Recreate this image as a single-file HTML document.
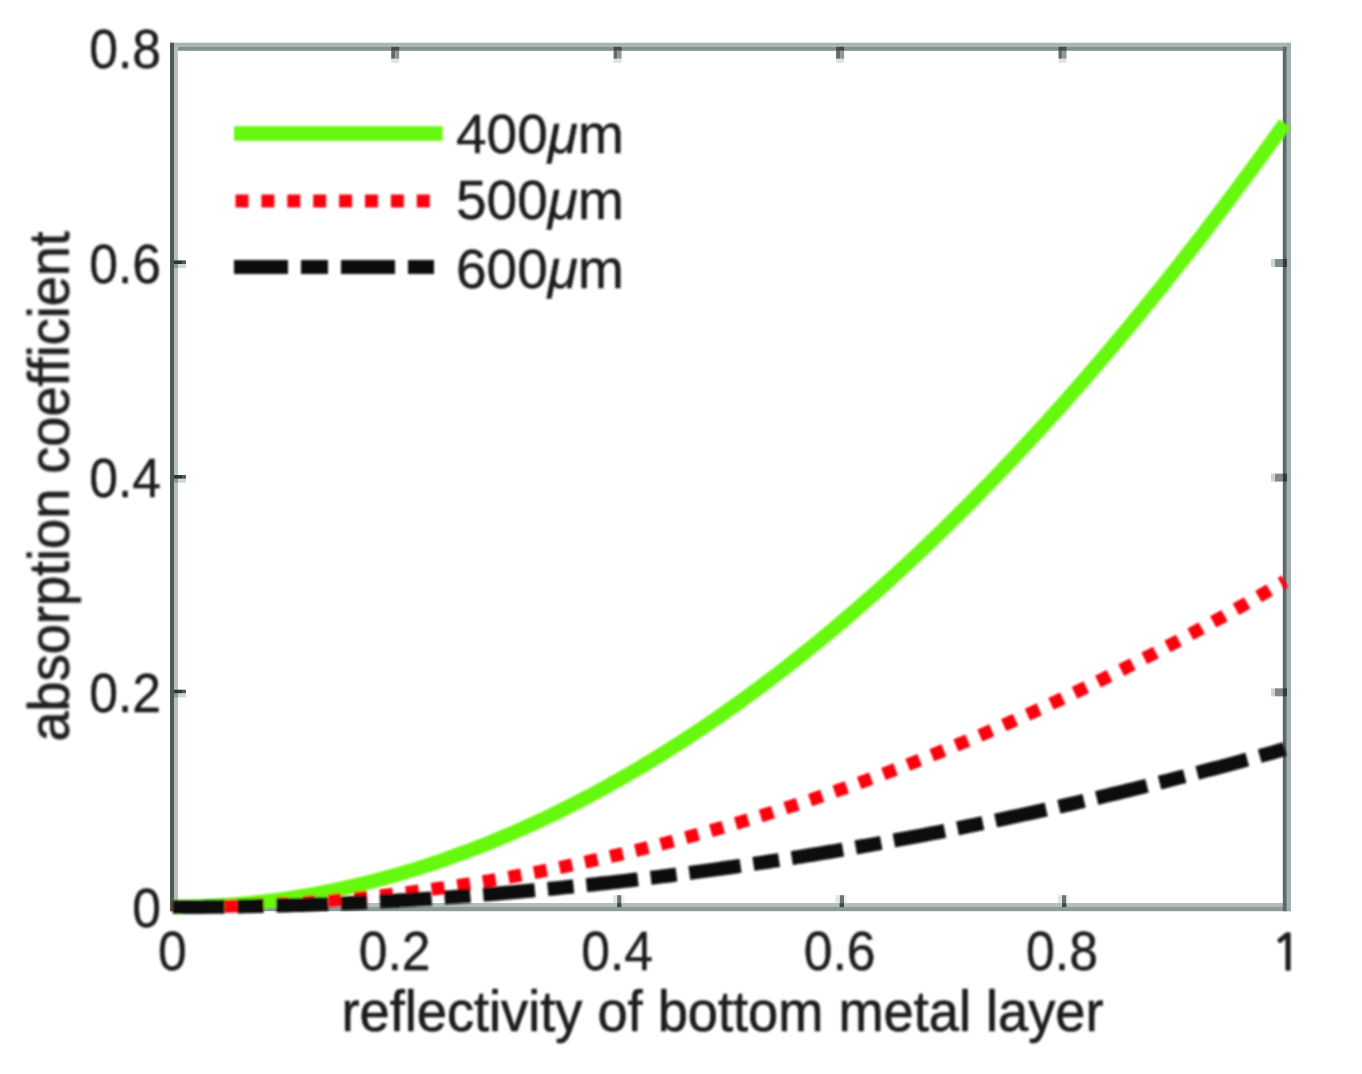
<!DOCTYPE html><html><head><meta charset="utf-8"><title>absorption coefficient vs reflectivity</title>
<style>html,body{margin:0;padding:0;background:#fff}body{width:1362px;height:1074px;overflow:hidden}svg{display:block}text{stroke:#1c1c1c;stroke-width:0.4px;font-variant-ligatures:none;font-family:"Liberation Sans",Arial,Helvetica,sans-serif;fill:#1c1c1c}</style></head><body>
<svg width="1362" height="1074" viewBox="0 0 1362 1074">
<defs><filter id="bl" x="-5%" y="-5%" width="110%" height="110%"><feGaussianBlur stdDeviation="1.1"/></filter> <filter id="ba" x="-5%" y="-5%" width="110%" height="110%"><feGaussianBlur stdDeviation="0.5"/></filter><filter id="bt" x="-5%" y="-5%" width="110%" height="110%"><feGaussianBlur stdDeviation="1.1"/></filter></defs>
<rect width="1362" height="1074" fill="#fff"/>
<g filter="url(#ba)">
<rect x="170" y="42.7" width="1121" height="4" fill="#a9b4b3"/>
<rect x="170" y="46.7" width="1121" height="4.1" fill="#83918f"/>
<rect x="170" y="903" width="1121" height="4" fill="#b3bdbc"/>
<rect x="170" y="907" width="1121" height="4.2" fill="#8e9b99"/>
<rect x="170" y="42.7" width="4" height="868.5" fill="#50585a"/>
<rect x="174" y="46.7" width="4" height="860" fill="#b5bfbe"/>
<rect x="1282.8" y="46.7" width="4" height="864.5" fill="#5d686a"/>
<rect x="1286.8" y="42.7" width="4.2" height="868.5" fill="#a3afae"/>
<rect x="391.2" y="46.8" width="8" height="4" fill="#454c4c"/><rect x="391.2" y="50.8" width="4" height="8" fill="#626a6a"/><rect x="395.2" y="50.8" width="4" height="8" fill="#8d9797"/><rect x="391.2" y="58.8" width="8" height="4" fill="#dde1e1"/>
<rect x="394.7" y="895.2" width="4.4" height="8" fill="#6a7272"/><rect x="394.7" y="903.1" width="4.4" height="4" fill="#3f4545"/><rect x="390.7" y="895.2" width="4" height="7.9" fill="#e0e5e5"/><rect x="399.1" y="895.2" width="3" height="8" fill="#eef1f1"/>
<rect x="613.6" y="46.8" width="8" height="4" fill="#454c4c"/><rect x="613.6" y="50.8" width="4" height="8" fill="#626a6a"/><rect x="617.6" y="50.8" width="4" height="8" fill="#8d9797"/><rect x="613.6" y="58.8" width="8" height="4" fill="#dde1e1"/>
<rect x="617.1" y="895.2" width="4.4" height="8" fill="#6a7272"/><rect x="617.1" y="903.1" width="4.4" height="4" fill="#3f4545"/><rect x="613.1" y="895.2" width="4" height="7.9" fill="#e0e5e5"/><rect x="621.5" y="895.2" width="3" height="8" fill="#eef1f1"/>
<rect x="836.1" y="46.8" width="8" height="4" fill="#454c4c"/><rect x="836.1" y="50.8" width="4" height="8" fill="#626a6a"/><rect x="840.1" y="50.8" width="4" height="8" fill="#8d9797"/><rect x="836.1" y="58.8" width="8" height="4" fill="#dde1e1"/>
<rect x="839.6" y="895.2" width="4.4" height="8" fill="#6a7272"/><rect x="839.6" y="903.1" width="4.4" height="4" fill="#3f4545"/><rect x="835.6" y="895.2" width="4" height="7.9" fill="#e0e5e5"/><rect x="844.0" y="895.2" width="3" height="8" fill="#eef1f1"/>
<rect x="1058.5" y="46.8" width="8" height="4" fill="#454c4c"/><rect x="1058.5" y="50.8" width="4" height="8" fill="#626a6a"/><rect x="1062.5" y="50.8" width="4" height="8" fill="#8d9797"/><rect x="1058.5" y="58.8" width="8" height="4" fill="#dde1e1"/>
<rect x="1062.0" y="895.2" width="4.4" height="8" fill="#6a7272"/><rect x="1062.0" y="903.1" width="4.4" height="4" fill="#3f4545"/><rect x="1058.0" y="895.2" width="4" height="7.9" fill="#e0e5e5"/><rect x="1066.4" y="895.2" width="3" height="8" fill="#eef1f1"/>
<rect x="174" y="689.7" width="8" height="3.8" fill="#2f3538"/><rect x="182" y="689.7" width="4" height="3.8" fill="#4f5759"/><rect x="174" y="693.5" width="4" height="3.9" fill="#8d9898"/><rect x="178" y="693.5" width="8" height="3.9" fill="#d0d6d6"/>
<rect x="1275" y="688.3" width="8" height="8" fill="#7f8a8a"/><rect x="1271" y="688.3" width="4" height="8" fill="#cdd4d3"/><rect x="1282.9" y="688.3" width="4" height="8" fill="#30373a"/>
<rect x="174" y="475.0" width="8" height="3.8" fill="#2f3538"/><rect x="182" y="475.0" width="4" height="3.8" fill="#4f5759"/><rect x="174" y="478.8" width="4" height="3.9" fill="#8d9898"/><rect x="178" y="478.8" width="8" height="3.9" fill="#d0d6d6"/>
<rect x="1275" y="473.6" width="8" height="8" fill="#7f8a8a"/><rect x="1271" y="473.6" width="4" height="8" fill="#cdd4d3"/><rect x="1282.9" y="473.6" width="4" height="8" fill="#30373a"/>
<rect x="174" y="260.4" width="8" height="3.8" fill="#2f3538"/><rect x="182" y="260.4" width="4" height="3.8" fill="#4f5759"/><rect x="174" y="264.2" width="4" height="3.9" fill="#8d9898"/><rect x="178" y="264.2" width="8" height="3.9" fill="#d0d6d6"/>
<rect x="1275" y="259.0" width="8" height="8" fill="#7f8a8a"/><rect x="1271" y="259.0" width="4" height="8" fill="#cdd4d3"/><rect x="1282.9" y="259.0" width="4" height="8" fill="#30373a"/>
</g><g filter="url(#bl)">
<path d="M172.80 907.00 L178.36 906.98 L183.92 906.92 L189.48 906.82 L195.04 906.67 L200.60 906.49 L206.16 906.27 L211.72 906.01 L217.28 905.71 L222.84 905.36 L228.41 904.98 L233.97 904.56 L239.53 904.10 L245.09 903.60 L250.65 903.06 L256.21 902.48 L261.77 901.86 L267.33 901.20 L272.89 900.50 L278.45 899.76 L284.01 898.98 L289.57 898.16 L295.13 897.31 L300.69 896.41 L306.25 895.47 L311.81 894.50 L317.37 893.48 L322.93 892.43 L328.49 891.34 L334.05 890.20 L339.62 889.03 L345.18 887.82 L350.74 886.57 L356.30 885.28 L361.86 883.95 L367.42 882.58 L372.98 881.17 L378.54 879.73 L384.10 878.24 L389.66 876.71 L395.22 875.15 L400.78 873.54 L406.34 871.90 L411.90 870.22 L417.46 868.50 L423.02 866.74 L428.58 864.94 L434.14 863.10 L439.70 861.22 L445.26 859.30 L450.83 857.34 L456.39 855.35 L461.95 853.31 L467.51 851.24 L473.07 849.13 L478.63 846.97 L484.19 844.78 L489.75 842.55 L495.31 840.28 L500.87 837.97 L506.43 835.63 L511.99 833.24 L517.55 830.81 L523.11 828.35 L528.67 825.84 L534.23 823.30 L539.79 820.72 L545.35 818.10 L550.91 815.44 L556.47 812.74 L562.04 810.00 L567.60 807.22 L573.16 804.41 L578.72 801.55 L584.28 798.66 L589.84 795.73 L595.40 792.75 L600.96 789.74 L606.52 786.69 L612.08 783.60 L617.64 780.48 L623.20 777.31 L628.76 774.10 L634.32 770.86 L639.88 767.58 L645.44 764.25 L651.00 760.89 L656.56 757.49 L662.12 754.05 L667.68 750.57 L673.25 747.06 L678.81 743.50 L684.37 739.91 L689.93 736.27 L695.49 732.60 L701.05 728.89 L706.61 725.14 L712.17 721.35 L717.73 717.52 L723.29 713.65 L728.85 709.75 L734.41 705.80 L739.97 701.82 L745.53 697.80 L751.09 693.73 L756.65 689.63 L762.21 685.50 L767.77 681.32 L773.33 677.10 L778.89 672.85 L784.46 668.55 L790.02 664.22 L795.58 659.85 L801.14 655.43 L806.70 650.99 L812.26 646.50 L817.82 641.97 L823.38 637.40 L828.94 632.80 L834.50 628.15 L840.06 623.47 L845.62 618.75 L851.18 613.99 L856.74 609.19 L862.30 604.35 L867.86 599.48 L873.42 594.56 L878.98 589.61 L884.54 584.62 L890.10 579.59 L895.67 574.52 L901.23 569.41 L906.79 564.26 L912.35 559.07 L917.91 553.85 L923.47 548.58 L929.03 543.28 L934.59 537.94 L940.15 532.56 L945.71 527.14 L951.27 521.68 L956.83 516.19 L962.39 510.65 L967.95 505.08 L973.51 499.46 L979.07 493.81 L984.63 488.12 L990.19 482.39 L995.75 476.63 L1001.31 470.82 L1006.88 464.98 L1012.44 459.09 L1018.00 453.17 L1023.56 447.21 L1029.12 441.21 L1034.68 435.17 L1040.24 429.09 L1045.80 422.98 L1051.36 416.82 L1056.92 410.63 L1062.48 404.40 L1068.04 398.13 L1073.60 391.82 L1079.16 385.47 L1084.72 379.09 L1090.28 372.66 L1095.84 366.20 L1101.40 359.69 L1106.96 353.15 L1112.52 346.57 L1118.09 339.95 L1123.65 333.30 L1129.21 326.60 L1134.77 319.87 L1140.33 313.09 L1145.89 306.28 L1151.45 299.43 L1157.01 292.54 L1162.57 285.62 L1168.13 278.65 L1173.69 271.64 L1179.25 264.60 L1184.81 257.52 L1190.37 250.40 L1195.93 243.24 L1201.49 236.04 L1207.05 228.80 L1212.61 221.53 L1218.17 214.21 L1223.73 206.86 L1229.30 199.47 L1234.86 192.04 L1240.42 184.57 L1245.98 177.07 L1251.54 169.52 L1257.10 161.94 L1262.66 154.31 L1268.22 146.65 L1273.78 138.95 L1279.34 131.21 L1284.90 123.44" fill="none" stroke="#66f808" stroke-width="14.3"/>
<path d="M172.80 907.00 L178.36 906.99 L183.92 906.97 L189.48 906.93 L195.04 906.87 L200.60 906.80 L206.16 906.71 L211.72 906.60 L217.28 906.48 L222.84 906.34 L228.41 906.19 L233.97 906.01 L239.53 905.83 L245.09 905.62 L250.65 905.40 L256.21 905.17 L261.77 904.92 L267.33 904.65 L272.89 904.36 L278.45 904.06 L284.01 903.74 L289.57 903.41 L295.13 903.06 L300.69 902.69 L306.25 902.31 L311.81 901.91 L317.37 901.49 L322.93 901.06 L328.49 900.61 L334.05 900.15 L339.62 899.67 L345.18 899.17 L350.74 898.66 L356.30 898.13 L361.86 897.59 L367.42 897.02 L372.98 896.45 L378.54 895.85 L384.10 895.24 L389.66 894.61 L395.22 893.97 L400.78 893.31 L406.34 892.63 L411.90 891.94 L417.46 891.23 L423.02 890.51 L428.58 889.77 L434.14 889.01 L439.70 888.24 L445.26 887.45 L450.83 886.64 L456.39 885.82 L461.95 884.98 L467.51 884.12 L473.07 883.25 L478.63 882.36 L484.19 881.46 L489.75 880.54 L495.31 879.60 L500.87 878.65 L506.43 877.68 L511.99 876.70 L517.55 875.69 L523.11 874.68 L528.67 873.64 L534.23 872.59 L539.79 871.52 L545.35 870.44 L550.91 869.34 L556.47 868.23 L562.04 867.09 L567.60 865.94 L573.16 864.78 L578.72 863.60 L584.28 862.40 L589.84 861.19 L595.40 859.96 L600.96 858.71 L606.52 857.45 L612.08 856.17 L617.64 854.88 L623.20 853.57 L628.76 852.24 L634.32 850.89 L639.88 849.53 L645.44 848.16 L651.00 846.77 L656.56 845.36 L662.12 843.93 L667.68 842.49 L673.25 841.03 L678.81 839.56 L684.37 838.07 L689.93 836.56 L695.49 835.04 L701.05 833.50 L706.61 831.94 L712.17 830.37 L717.73 828.78 L723.29 827.18 L728.85 825.56 L734.41 823.92 L739.97 822.27 L745.53 820.60 L751.09 818.91 L756.65 817.21 L762.21 815.49 L767.77 813.76 L773.33 812.01 L778.89 810.24 L784.46 808.45 L790.02 806.65 L795.58 804.84 L801.14 803.01 L806.70 801.16 L812.26 799.29 L817.82 797.41 L823.38 795.51 L828.94 793.60 L834.50 791.67 L840.06 789.72 L845.62 787.76 L851.18 785.78 L856.74 783.79 L862.30 781.77 L867.86 779.75 L873.42 777.70 L878.98 775.64 L884.54 773.56 L890.10 771.47 L895.67 769.36 L901.23 767.24 L906.79 765.09 L912.35 762.94 L917.91 760.76 L923.47 758.57 L929.03 756.36 L934.59 754.14 L940.15 751.90 L945.71 749.65 L951.27 747.37 L956.83 745.08 L962.39 742.78 L967.95 740.46 L973.51 738.12 L979.07 735.77 L984.63 733.40 L990.19 731.01 L995.75 728.61 L1001.31 726.19 L1006.88 723.75 L1012.44 721.30 L1018.00 718.84 L1023.56 716.35 L1029.12 713.85 L1034.68 711.33 L1040.24 708.80 L1045.80 706.25 L1051.36 703.69 L1056.92 701.11 L1062.48 698.51 L1068.04 695.89 L1073.60 693.26 L1079.16 690.62 L1084.72 687.95 L1090.28 685.27 L1095.84 682.58 L1101.40 679.87 L1106.96 677.14 L1112.52 674.39 L1118.09 671.63 L1123.65 668.85 L1129.21 666.06 L1134.77 663.25 L1140.33 660.43 L1145.89 657.58 L1151.45 654.72 L1157.01 651.85 L1162.57 648.96 L1168.13 646.05 L1173.69 643.13 L1179.25 640.19 L1184.81 637.23 L1190.37 634.26 L1195.93 631.27 L1201.49 628.26 L1207.05 625.24 L1212.61 622.20 L1218.17 619.15 L1223.73 616.08 L1229.30 612.99 L1234.86 609.89 L1240.42 606.77 L1245.98 603.64 L1251.54 600.48 L1257.10 597.32 L1262.66 594.13 L1268.22 590.93 L1273.78 587.71 L1279.34 584.48 L1284.90 581.23" fill="none" stroke="#fb0210" stroke-width="13" stroke-dasharray="12.98 12.98"/>
<path d="M172.80 907.00 L178.36 907.00 L183.92 906.98 L189.48 906.96 L195.04 906.94 L200.60 906.90 L206.16 906.86 L211.72 906.81 L217.28 906.75 L222.84 906.68 L228.41 906.60 L233.97 906.52 L239.53 906.43 L245.09 906.33 L250.65 906.23 L256.21 906.11 L261.77 905.99 L267.33 905.86 L272.89 905.72 L278.45 905.57 L284.01 905.42 L289.57 905.26 L295.13 905.09 L300.69 904.91 L306.25 904.72 L311.81 904.53 L317.37 904.33 L322.93 904.12 L328.49 903.90 L334.05 903.68 L339.62 903.44 L345.18 903.20 L350.74 902.96 L356.30 902.70 L361.86 902.43 L367.42 902.16 L372.98 901.88 L378.54 901.59 L384.10 901.30 L389.66 900.99 L395.22 900.68 L400.78 900.36 L406.34 900.03 L411.90 899.70 L417.46 899.35 L423.02 899.00 L428.58 898.64 L434.14 898.27 L439.70 897.90 L445.26 897.52 L450.83 897.12 L456.39 896.73 L461.95 896.32 L467.51 895.90 L473.07 895.48 L478.63 895.05 L484.19 894.61 L489.75 894.17 L495.31 893.71 L500.87 893.25 L506.43 892.78 L511.99 892.30 L517.55 891.82 L523.11 891.32 L528.67 890.82 L534.23 890.31 L539.79 889.79 L545.35 889.27 L550.91 888.74 L556.47 888.19 L562.04 887.64 L567.60 887.09 L573.16 886.52 L578.72 885.95 L584.28 885.37 L589.84 884.78 L595.40 884.18 L600.96 883.58 L606.52 882.97 L612.08 882.35 L617.64 881.72 L623.20 881.08 L628.76 880.44 L634.32 879.79 L639.88 879.13 L645.44 878.46 L651.00 877.79 L656.56 877.10 L662.12 876.41 L667.68 875.71 L673.25 875.00 L678.81 874.29 L684.37 873.57 L689.93 872.84 L695.49 872.10 L701.05 871.35 L706.61 870.60 L712.17 869.83 L717.73 869.06 L723.29 868.29 L728.85 867.50 L734.41 866.71 L739.97 865.90 L745.53 865.09 L751.09 864.28 L756.65 863.45 L762.21 862.62 L767.77 861.78 L773.33 860.93 L778.89 860.07 L784.46 859.20 L790.02 858.33 L795.58 857.45 L801.14 856.56 L806.70 855.67 L812.26 854.76 L817.82 853.85 L823.38 852.93 L828.94 852.00 L834.50 851.06 L840.06 850.12 L845.62 849.17 L851.18 848.21 L856.74 847.24 L862.30 846.26 L867.86 845.28 L873.42 844.29 L878.98 843.29 L884.54 842.28 L890.10 841.27 L895.67 840.24 L901.23 839.21 L906.79 838.17 L912.35 837.13 L917.91 836.07 L923.47 835.01 L929.03 833.94 L934.59 832.86 L940.15 831.78 L945.71 830.68 L951.27 829.58 L956.83 828.47 L962.39 827.35 L967.95 826.23 L973.51 825.09 L979.07 823.95 L984.63 822.80 L990.19 821.64 L995.75 820.48 L1001.31 819.31 L1006.88 818.12 L1012.44 816.94 L1018.00 815.74 L1023.56 814.53 L1029.12 813.32 L1034.68 812.10 L1040.24 810.87 L1045.80 809.64 L1051.36 808.39 L1056.92 807.14 L1062.48 805.88 L1068.04 804.61 L1073.60 803.34 L1079.16 802.05 L1084.72 800.76 L1090.28 799.46 L1095.84 798.15 L1101.40 796.84 L1106.96 795.51 L1112.52 794.18 L1118.09 792.84 L1123.65 791.50 L1129.21 790.14 L1134.77 788.78 L1140.33 787.41 L1145.89 786.03 L1151.45 784.64 L1157.01 783.25 L1162.57 781.85 L1168.13 780.44 L1173.69 779.02 L1179.25 777.59 L1184.81 776.16 L1190.37 774.72 L1195.93 773.27 L1201.49 771.81 L1207.05 770.35 L1212.61 768.87 L1218.17 767.39 L1223.73 765.90 L1229.30 764.40 L1234.86 762.90 L1240.42 761.39 L1245.98 759.87 L1251.54 758.34 L1257.10 756.80 L1262.66 755.26 L1268.22 753.70 L1273.78 752.14 L1279.34 750.58 L1284.90 749.00" fill="none" stroke="#0a0a0a" stroke-width="14" stroke-dasharray="51.8 12.95 25.9 12.95"/>
<line x1="234" y1="133.5" x2="442.5" y2="133.5" stroke="#66f808" stroke-width="14.5"/>
<line x1="235.5" y1="201" x2="436" y2="201" stroke="#fb0210" stroke-width="13" stroke-dasharray="12.95 12.95"/>
<line x1="234" y1="267" x2="434" y2="267" stroke="#0a0a0a" stroke-width="14" stroke-dasharray="54 13 27 13"/>
</g>
<g filter="url(#bt)">
<text transform="translate(172.3 970.3) scale(0.94 1)" font-size="55" text-anchor="middle">0</text>
<text transform="translate(394.7 970.3) scale(0.94 1)" font-size="55" text-anchor="middle">0.2</text>
<text transform="translate(617.1 970.3) scale(0.94 1)" font-size="55" text-anchor="middle">0.4</text>
<text transform="translate(839.6 970.3) scale(0.94 1)" font-size="55" text-anchor="middle">0.6</text>
<text transform="translate(1062.0 970.3) scale(0.94 1)" font-size="55" text-anchor="middle">0.8</text>
<text x="1271" y="970" font-size="51" style="stroke-width:1.7px;font-family:NanumGothic,'Liberation Sans',sans-serif">1</text>
<text transform="translate(161 926.6) scale(0.94 1)" font-size="55" text-anchor="end">0</text>
<text transform="translate(161 711.9) scale(0.94 1)" font-size="55" text-anchor="end">0.2</text>
<text transform="translate(161 497.2) scale(0.94 1)" font-size="55" text-anchor="end">0.4</text>
<text transform="translate(161 282.6) scale(0.94 1)" font-size="55" text-anchor="end">0.6</text>
<text transform="translate(161 67.9) scale(0.94 1)" font-size="55" text-anchor="end">0.8</text>
<text x="341.5" y="1030.5" style="stroke-width:0.7px" font-size="56.5" textLength="762" lengthAdjust="spacingAndGlyphs">reflectivity of bottom metal layer</text>
<text transform="translate(68.7 741.5) rotate(-90)" style="stroke-width:0.7px" font-size="56.5" textLength="510.5" lengthAdjust="spacingAndGlyphs">absorption coefficient</text>
<text x="456" y="152.5" font-size="55">400<tspan font-style="italic">μ</tspan>m</text>
<text x="456" y="219.0" font-size="55">500<tspan font-style="italic">μ</tspan>m</text>
<text x="456" y="288.0" font-size="55">600<tspan font-style="italic">μ</tspan>m</text>
</g>
</svg></body></html>
